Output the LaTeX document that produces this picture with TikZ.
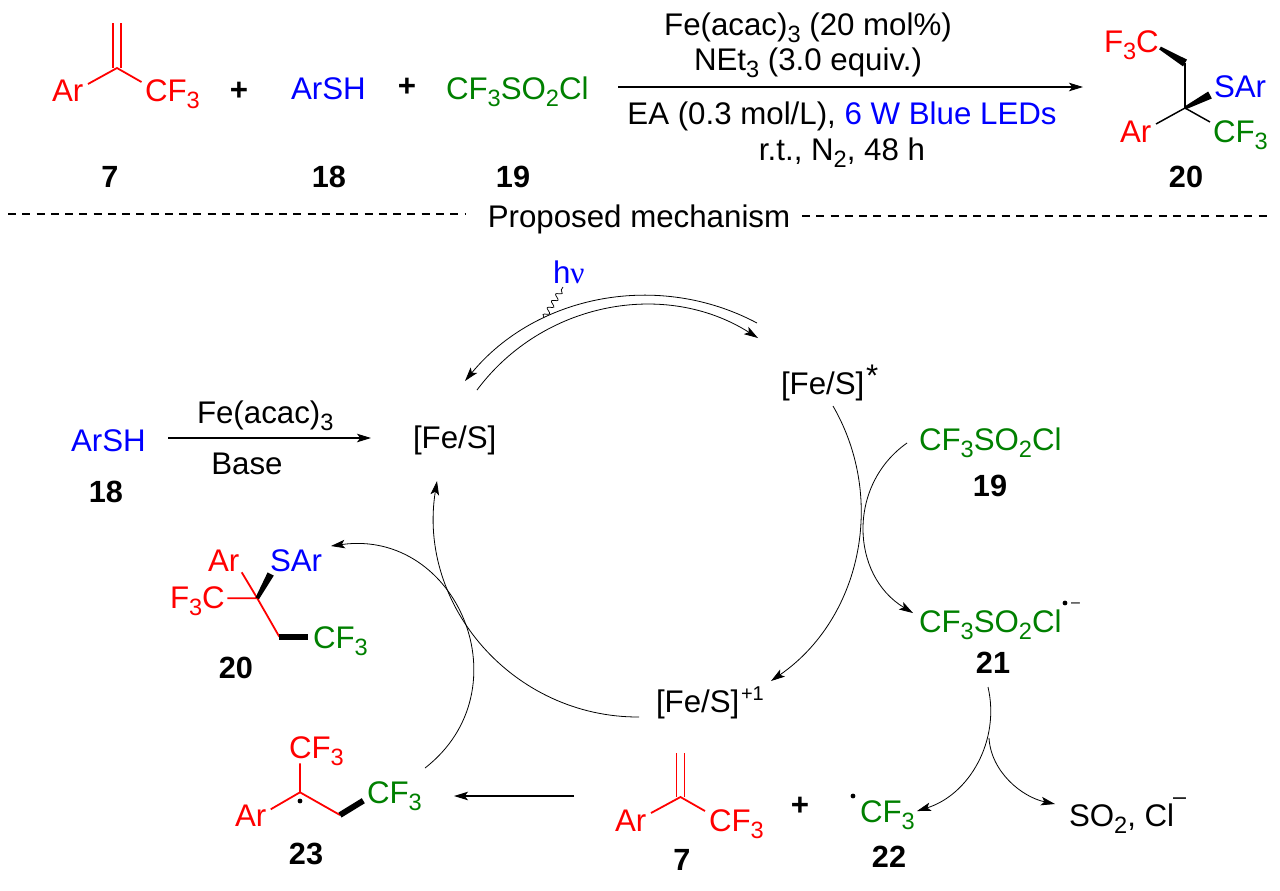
\documentclass[tikz,border=0pt]{standalone}
\usepackage{fontspec}
\setmainfont{Liberation Sans}
\newfontfamily\grk{Liberation Serif}
\usetikzlibrary{arrows.meta,decorations.pathmorphing}
\definecolor{cred}{HTML}{FF0000}
\definecolor{cblue}{HTML}{0000FF}
\definecolor{cgreen}{HTML}{008000}
\newcommand\lo[1]{\raisebox{-0.25em}{\fontsize{17.7}{20}\selectfont #1}}
\tikzset{
  every node/.style={inner sep=0pt,outer sep=0pt,font=\fontsize{23.45}{28}\selectfont},
  tx/.style={anchor=base west},
  tc/.style={anchor=base},
  pls/.style={anchor=base,font=\fontsize{23.45}{28}\selectfont\bfseries},
  lbl/.style={anchor=base,font=\fontsize{23}{28}\selectfont\bfseries},
  bond/.style={line width=1.35pt},
  bold/.style={line width=4.4pt},
  tipped/.style={-{Stealth[length=10.5pt,width=6.4pt,inset=2.4pt]}},
  arc/.style={line width=0.6pt,tipped},
  dotn/.style={circle,fill,minimum size=3.6pt},
  dsh/.style={line width=0.8pt,dash pattern=on 6pt off 4.7pt},
}
\begin{document}
\begin{tikzpicture}[x=0.75pt,y=-0.75pt]
\useasboundingbox[fill=white] (0,0) rectangle (1280,890);
% --- top equation
\node[tx,cred] (a1) at (52,101) {Ar};
\node[tx,cred] (a2) at (145,101) {CF\lo{3}};
\coordinate (a3) at (117,68);
\coordinate (a4) at (88,84);
\coordinate (a5) at (141.5,82);
\coordinate (a6) at (113,23);
\coordinate (a7) at (121,23);
\coordinate (a8) at (113,68);
\coordinate (a9) at (121,68);
\draw[bond,cred] (a4) -- (a3) -- (a5);
\draw[bond,cred] (a6) -- (a8) (a7) -- (a9);
\node[pls] (p1) at (239,100) {+};
\node[pls] (p2) at (407,96) {+};
\node[tx,cblue] (b1) at (291,99) {ArSH};
\node[tx,cgreen] (c1) at (446,99) {CF\lo{3}SO\lo{2}Cl};
\node[lbl] (l7) at (110,187) {7};
\node[lbl] (l18) at (329,187) {18};
\node[lbl] (l19) at (513,187) {19};
\coordinate (r1) at (618,87);
\coordinate (r2) at (1083,87);
\draw[arc,line width=0.8pt] (r1) -- (r2);
\node[tc] (k1) at (808,35) {Fe(acac)\lo{3} (20 mol\%)};
\node[tc] (k2) at (808,70) {NEt\lo{3} (3.0 equiv.)};
\node[tc] (k3) at (842,124) {EA (0.3 mol/L), \textcolor{cblue}{6 W Blue LEDs}};
\node[tc] (k4) at (842,160) {r.t., N\lo{2}, 48 h};
% product 20 top
\node[tx,cred] (d1) at (1104,52) {F\lo{3}C};
\node[tx,cblue] (d2) at (1214,97) {SAr};
\node[tx,cred] (d3) at (1120,142) {Ar};
\node[tx,cgreen] (d4) at (1213,142) {CF\lo{3}};
\node[lbl] (l20a) at (1186,187) {20};
\coordinate (d5) at (1185,63);
\coordinate (d6) at (1185,108);
\coordinate (d7) at (1156,124);
\coordinate (d8) at (1210,122);
\draw[line width=1.1pt] (d5) -- (d6);
\draw[line width=1.1pt] (d7) -- (d6) -- (d8);
\fill (1159.1,49.3) -- (1160.9,46.7) -- (1187,59.6) -- (1183,66.4) -- cycle;
\fill (1185.6,109.4) -- (1184.4,106.6) -- (1208.2,91.5) -- (1211.8,98.5) -- cycle;
% dashed rule
\coordinate (e1) at (8,214);
\coordinate (e2) at (465,214);
\coordinate (e3) at (802,216);
\coordinate (e4) at (1272,216);
\draw[dsh] (e1) -- (e2);
\draw[dsh] (e3) -- (e4);
\node[tc] (e5) at (639,227) {Proposed mechanism};
% --- cycle top
\node[tx,cblue] (hv) at (553,283) {h{\grk ν}};
\coordinate (f1) at (757,323);
\coordinate (f2) at (465,381);
\coordinate (f3) at (477,390);
\coordinate (f4) at (758,338);
\coordinate (f5) at (544,318);
\coordinate (f6) at (563,287);
\draw[arc] (f1) .. controls (658.3,270.6) and (536.2,294.8) .. (f2);
\draw[arc] (f3) .. controls (542.7,301.9) and (665.1,279.3) .. (f4);
\draw[line width=0.55pt,decorate,decoration={snake,segment length=6pt,amplitude=2pt}] (f5) -- (f6);
\node[tx] (fe1) at (413,448) {[Fe/S]};
\node[tx] (fe2) at (781,394) {[Fe/S]};
\node[tx] (star) at (866,386) {*};
\node[tx] (fe3) at (656,712) {[Fe/S]};
\node[tx,font=\fontsize{15}{18}\selectfont] (plus1) at (741,700) {+1};
\coordinate (g1) at (833,406);
\coordinate (g2) at (771,681);
\draw[arc] (g1) .. controls (887.2,499.9) and (860.2,619.4) .. (g2);
\coordinate (g3) at (639,717);
\coordinate (g4) at (437,481);
\draw[arc] (g3) .. controls (513.2,717.5) and (417,605.3) .. (g4);
\coordinate (g5) at (425,768);
\coordinate (g6) at (331,546);
\draw[arc] (g5) .. controls (525.7,689.6) and (457.3,528.3) .. (g6);
% ArSH
\node[tx,cblue] (h1) at (71,451) {ArSH};
\node[lbl] (l18b) at (106,502) {18};
\coordinate (h2) at (168,438);
\coordinate (h3) at (371,438);
\draw[arc,line width=0.8pt] (h2) -- (h3);
\node[tx] (h4) at (197,423) {Fe(acac)\lo{3}};
\node[tc] (h5) at (247,474) {Base};
% 19, 21
\node[tx,cgreen] (i1) at (919,450) {CF\lo{3}SO\lo{2}Cl};
\node[lbl] (l19b) at (990,496) {19};
\node[tx,cgreen] (i2) at (919,632) {CF\lo{3}SO\lo{2}Cl};
\node[dotn] (i3) at (1065,603) {};
\node[anchor=base,font=\fontsize{12}{14}\selectfont] (i4) at (1075.5,607.4) {–};
\node[lbl] (l21) at (993,673) {21};
\coordinate (j1) at (907,443);
\coordinate (j2) at (913,613);
\draw[arc] (j1) .. controls (847.2,485.1) and (850.4,575.2) .. (j2);
\coordinate (j3) at (988,687);
\coordinate (j4) at (917,811);
\coordinate (j5) at (989,738);
\coordinate (j6) at (1055,804);
\draw[arc] (j3) .. controls (1000.4,740.5) and (969.4,794.6) .. (j4);
\draw[arc] (j5) .. controls (991,772) and (1022,797) .. (j6);
\node[tx] (so) at (1069,826) {SO\lo{2}, Cl};
\node[anchor=base,font=\fontsize{17.5}{20}\selectfont] (so2) at (1179.5,804.4) {–};
% bottom 7
\node[tx,cred] (m1) at (615,831) {Ar};
\node[tx,cred] (m2) at (709,831) {CF\lo{3}};
\node[lbl] (l7b) at (682,870) {7};
\coordinate (m3) at (680.5,797);
\coordinate (m4) at (651,813);
\coordinate (m5) at (705,811);
\coordinate (m6) at (676.5,753);
\coordinate (m7) at (684.5,753);
\coordinate (m8) at (676.5,797);
\coordinate (m9) at (684.5,797);
\draw[bond,cred] (m4) -- (m3) -- (m5);
\draw[bond,cred] (m6) -- (m8) (m7) -- (m9);
\node[pls] (p3) at (800,815) {+};
\node[dotn] (n1) at (853,796) {};
\node[tx,cgreen] (n2) at (860,822) {CF\lo{3}};
\node[lbl] (l22) at (889,867) {22};
\coordinate (n3) at (574,796);
\coordinate (n4) at (454,796);
\draw[arc,line width=0.8pt] (n3) -- (n4);
% left 20
\node[tx,cred] (o1) at (208,571) {Ar};
\node[tx,cblue] (o2) at (270,571) {SAr};
\node[tx,cred] (o3) at (170,608) {F\lo{3}C};
\node[tx,cgreen] (o4) at (313,648) {CF\lo{3}};
\node[lbl] (l20b) at (236,678) {20};
\coordinate (o5) at (257.3,598.3);
\coordinate (o6) at (241.7,572.3);
\coordinate (o7) at (227.3,598.3);
\coordinate (o8) at (279.3,636.7);
\coordinate (o9) at (308.3,636.7);
\draw[bond,cred] (o6) -- (o5) (o7) -- (o5) (o5) -- (o8);
\fill (259,599.2) -- (255.6,597.4) -- (267.6,572.4) -- (273.8,575.6) -- cycle;
\draw[bold] (o8) -- (o9);
% 23
\node[tx,cred] (q1) at (289,758) {CF\lo{3}};
\node[tx,cred] (q2) at (235,826) {Ar};
\node[tx,cgreen] (q3) at (367,803) {CF\lo{3}};
\node[lbl] (l23) at (306,864) {23};
\node[dotn] (q4) at (300,801) {};
\coordinate (q5) at (300,792.3);
\coordinate (q6) at (300,763.3);
\coordinate (q7) at (270.7,809.3);
\coordinate (q8) at (340,815);
\coordinate (q9) at (363.3,800.7);
\draw[bond,cred] (q6) -- (q5) (q7) -- (q5) (q5) -- (q8);
\draw[bold] (q8) -- (q9);
\end{tikzpicture}
\end{document}
